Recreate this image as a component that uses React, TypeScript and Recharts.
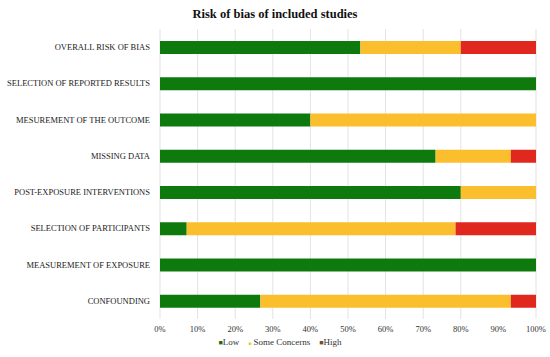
import React from "react";
import { BarChart, Bar, XAxis, YAxis, CartesianGrid, Legend } from "recharts";

const categories = [
  "OVERALL RISK OF BIAS",
  "SELECTION OF REPORTED RESULTS",
  "MESUREMENT OF THE OUTCOME",
  "MISSING DATA",
  "POST-EXPOSURE INTERVENTIONS",
  "SELECTION OF PARTICIPANTS",
  "MEASUREMENT OF EXPOSURE",
  "CONFOUNDING",
];
const lowValues = [53.3, 100, 40, 73.3, 80, 7.1, 100, 26.7];
const someValues = [26.7, 0, 60, 20, 20, 71.5, 0, 66.6];
const highValues = [20, 0, 0, 6.7, 0, 21.4, 0, 6.7];
const xTicks = [0, 10, 20, 30, 40, 50, 60, 70, 80, 90, 100];

const data = categories.map((c, i) => ({
  name: c,
  low: lowValues[i],
  some: someValues[i],
  high: highValues[i],
}));

const FONT = "'Liberation Serif', 'Times New Roman', serif";

const YTick = (props: any) => {
  const { x, y, payload } = props;
  return (
    <text
      x={x}
      y={y}
      dy="0.35em"
      textAnchor="end"
      fontFamily={FONT}
      fontSize={8.5}
      fill="#1a1a1a"
    >
      {payload.value}
    </text>
  );
};

const LegendContent = () => (
  <div
    style={{
      display: "flex",
      justifyContent: "center",
      fontFamily: FONT,
      fontSize: 9,
      color: "#333",
      gap: 9,
      marginLeft: 24,
    }}
  >
    <span>
      <span style={{ color: "#1E6A12", fontSize: 7 }}>■</span>Low
    </span>
    <span>
      <span style={{ color: "#D6D52A", fontSize: 5 }}>■</span> Some Concerns
    </span>
    <span>
      <span style={{ color: "#7A4A1E", fontSize: 7 }}>■</span>High
    </span>
  </div>
);

export default function App() {
  return (
    <div
      style={{
        position: "absolute",
        left: 0,
        top: 0,
        width: 550,
        height: 357,
        background: "#fff",
      }}
    >
      <div
        style={{
          position: "absolute",
          top: 7,
          left: 0,
          width: 550,
          textAlign: "center",
          fontFamily: FONT,
          fontWeight: "bold",
          fontSize: 12.5,
          color: "#111",
        }}
      >
        Risk of bias of included studies
      </div>
      <BarChart
        width={550}
        height={357}
        data={data}
        layout="vertical"
        margin={{ top: 29, right: 14, bottom: 6, left: 0 }}
        barSize={13}
      >
        <CartesianGrid horizontal={false} stroke="#e3e3e3" />
        <XAxis
          type="number"
          domain={[0, 100]}
          ticks={xTicks}
          tickFormatter={(v) => `${v}%`}
          axisLine={false}
          tickLine={false}
          tickMargin={1}
          height={18}
          tick={{ fontFamily: FONT, fontSize: 8.5, fill: "#333" }}
        />
        <YAxis
          type="category"
          dataKey="name"
          width={160}
          axisLine={false}
          tickLine={false}
          tickMargin={4}
          tick={<YTick />}
        />
        <Legend verticalAlign="bottom" height={14} content={<LegendContent />} />
        <Bar dataKey="low" stackId="a" fill="#0E7A0E" isAnimationActive={false} />
        <Bar dataKey="some" stackId="a" fill="#FBBF2D" isAnimationActive={false} />
        <Bar dataKey="high" stackId="a" fill="#E0281F" isAnimationActive={false} />
      </BarChart>
    </div>
  );
}
